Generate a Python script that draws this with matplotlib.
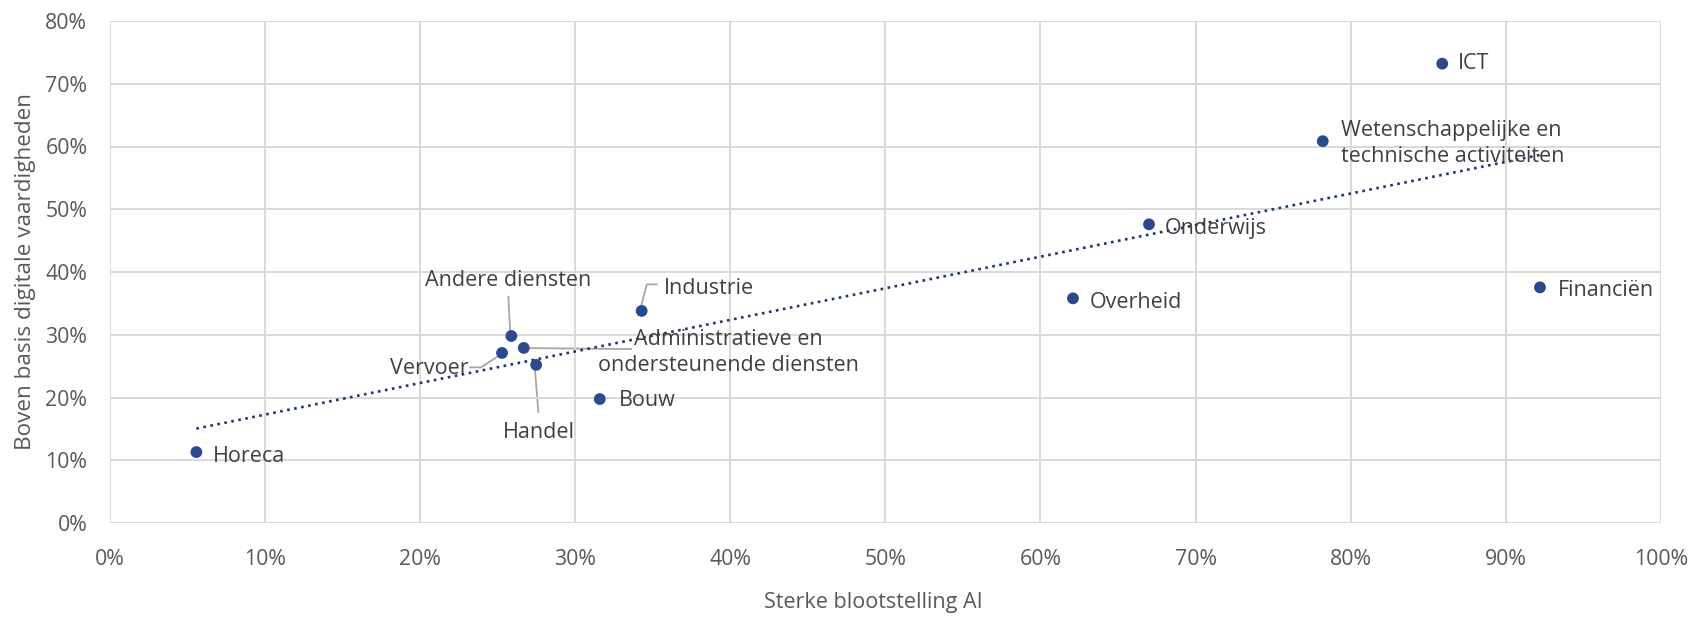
import matplotlib
matplotlib.use("Agg")
import matplotlib.pyplot as plt
import numpy as np
from matplotlib.ticker import FuncFormatter

plt.rcParams['font.family'] = ['Open Sans', 'DejaVu Sans']

sectors = ["Horeca", "Vervoer", "Andere diensten", "Administratieve en\nondersteunende diensten",
           "Handel", "Bouw", "Industrie", "Overheid", "Onderwijs",
           "Wetenschappelijke en\ntechnische activiteiten", "ICT", "Financiën"]
ai_exposure = [5.6, 25.3, 25.9, 26.7, 27.5, 31.6, 34.3, 62.1, 67.0, 78.2, 85.9, 92.2]
digital_skills = [11.3, 27.1, 29.8, 27.9, 25.2, 19.75, 33.8, 35.8, 47.6, 60.85, 73.2, 37.55]

x_ticks = [0, 10, 20, 30, 40, 50, 60, 70, 80, 90, 100]
y_ticks = [0, 10, 20, 30, 40, 50, 60, 70, 80]

W, H = 1700, 618
fig = plt.figure(figsize=(W / 100, H / 100), dpi=100)
ax = fig.add_axes([109.5 / W, 1 - 523 / H, (1661 - 109.5) / W, (523 - 21) / H])

grid_c = "#D9D9D9"
ax.set_xlim(0, 100)
ax.set_ylim(0, 80)
ax.set_xticks(x_ticks)
ax.set_yticks(y_ticks)
ax.grid(True, color=grid_c, linewidth=1.4, zorder=0)
for s in ax.spines.values():
    s.set_visible(False)
ax.tick_params(length=0, labelsize=15.3, colors="#595959")
ax.tick_params(axis='x', pad=18.5)
ax.tick_params(axis='y', pad=16)
fmt = FuncFormatter(lambda v, p: f"{v:.0f}%")
ax.xaxis.set_major_formatter(fmt)
ax.yaxis.set_major_formatter(fmt)

# trendline (least squares)
xs = np.array(ai_exposure)
ys = np.array(digital_skills)
k, b = np.polyfit(xs, ys, 1)
tx = np.array([xs.min(), xs.max()])
ax.plot(tx, k * tx + b, linestyle=(0, (1, 1.7)), color="#1F3864", linewidth=1.9, zorder=2)

ax.scatter(xs, ys, s=72, color="#2A4A8C", zorder=3, edgecolors="none")

lab_c = "#404040"
fs = 15.5
label_pos = {
    "Horeca": (6.65, 10.6, "left"),
    "Vervoer": (23.15, 24.6, "right"),
    "Andere diensten": (25.7, 38.7, "center"),
    "Administratieve en\nondersteunende diensten": (39.9, 27.2, "center"),
    "Handel": (27.7, 14.5, "center"),
    "Bouw": (32.8, 19.5, "left"),
    "Industrie": (35.7, 37.4, "left"),
    "Overheid": (63.2, 35.1, "left"),
    "Onderwijs": (68.0, 46.9, "left"),
    "Wetenschappelijke en\ntechnische activiteiten": (79.4, 60.5, "left"),
    "ICT": (86.9, 73.2, "left"),
    "Financiën": (93.35, 37.1, "left"),
}
for name in sectors:
    x, y, ha = label_pos[name]
    ax.text(x, y, name, ha=ha, va="center", fontsize=fs, color=lab_c, zorder=4,
            linespacing=1.3, multialignment="left" if "Weten" in name else "center")

# leader lines
lc = "#A6A6A6"
def px2data(X, Y):
    return ((X - 109.5) / 15.515, (523 - Y) / 6.2775)
leader_px = [
    [(508.3, 296.7), (510.3, 333)],                       # Andere diensten
    [(470, 367.3), (481, 367.3), (498.3, 356)],           # Vervoer
    [(535, 369.3), (538.3, 411.7)],                       # Handel
    [(527, 348), (631, 349)],                             # Administratieve
    [(641, 306.7), (646.7, 284.3), (656.7, 284.3)],       # Industrie
]
for seg in leader_px:
    pts = [px2data(*p) for p in seg]
    ax.plot([p[0] for p in pts], [p[1] for p in pts], color=lc, linewidth=1.3, zorder=1)

ax.set_xlabel("Sterke blootstelling AI", fontsize=15.5, color="#595959", labelpad=16, x=0.4925)
ax.set_ylabel("Boven basis digitale vaardigheden", fontsize=16.2, color="#595959", labelpad=7)

fig.savefig("out.png", dpi=100, facecolor="white")
